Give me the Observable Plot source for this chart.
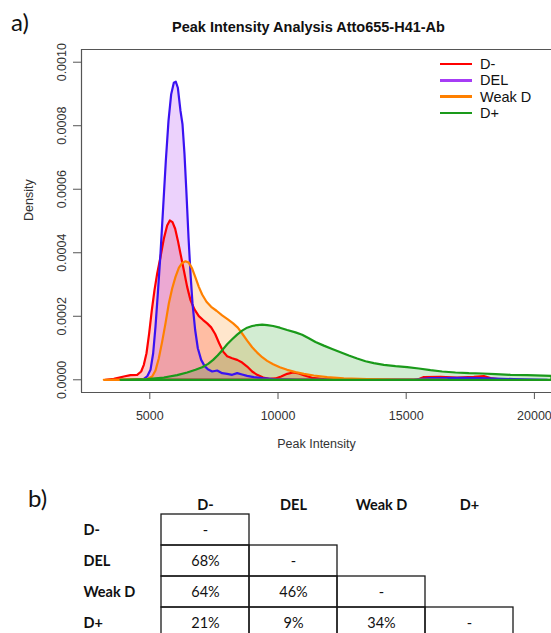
<!DOCTYPE html>
<html><head><meta charset="utf-8">
<script src="https://cdn.jsdelivr.net/npm/d3@7"></script>
<script src="https://cdn.jsdelivr.net/npm/@observablehq/plot@0.6"></script>
<style>
html,body{margin:0;padding:0;overflow:hidden;background:#fff;}
#root{position:relative;width:551px;height:633px;overflow:hidden;}
.abs{position:absolute;}
.panel{font-family:Lato,"Open Sans",sans-serif;font-size:24px;color:#111;line-height:24px;}
#legend{position:absolute;left:440px;top:56px;font-family:"Liberation Sans",Arial,sans-serif;font-size:14.5px;line-height:16.3px;color:#111;}
#legend .row{display:flex;align-items:center;height:16.3px;white-space:nowrap;}
#legend .sw{width:32px;height:2.5px;margin-right:8px;}
</style></head><body>
<div id="root">
  <div id="chart" class="abs" style="left:0;top:0"></div>
  <div id="table" class="abs" style="left:0;top:460px"></div>
  <div class="abs panel" style="left:11px;top:10px">a)</div>
  <div class="abs panel" style="left:28px;top:486px">b)</div>
  <div id="legend"></div>
</div>
<script>
// ---------- data ----------
const titleText = "Peak Intensity Analysis Atto655-H41-Ab";
const xLabel = "Peak Intensity";
const yLabel = "Density";
const seriesNames = ["D-", "DEL", "Weak D", "D+"];
const lineColors = ["#ff0000", "#3a12f2", "#ff8000", "#1a9a1a"];
const legendColors = ["#ff0000", "#a63cf5", "#ff8000", "#1a9a1a"];
const fillColors = ["#ff0000", "#a020f0", "#ff8000", "#20a020"];
const xTicks = [5000, 10000, 15000, 20000];
const yTicks = [0, 0.0002, 0.0004, 0.0006, 0.0008, 0.0010];
const xDomain = [2336, 20667];
const yDomain = [-0.00004, 0.00104];

const dMinusX = [3272,3597,3987,4247,4507,4663,4767,4871,4975,5079,5183,5287,5417,5547,5677,5781,5885,5989,6093,6197,6327,6457,6587,6743,6912,7081,7237,7393,7549,7705,7861,8017,8212,8407,8602,8797,8992,9187,9421,9655,9902,10123,10357,10591,10812,11033,11332,11787,12697,15427,15687,16337,16987,17637,18027,18352,18807];
const dMinusY = [0,0.0000031,0.0000105,0.0000146,0.0000157,0.0000261,0.000047,0.0000836,0.0001463,0.0002195,0.0002822,0.0003344,0.0003867,0.0004441,0.0004859,0.0005016,0.0004964,0.0004755,0.0004389,0.0003971,0.0003449,0.0002926,0.0002508,0.0002215,0.0002006,0.0001881,0.0001777,0.0001651,0.0001442,0.000115,0.0000888,0.0000742,0.0000679,0.0000627,0.0000543,0.0000418,0.0000261,0.0000157,0.0000073,0.0000031,0.0000042,0.0000105,0.0000188,0.000023,0.0000199,0.0000136,0.0000063,0.0000021,0,0,0.0000084,0.0000094,0.0000073,0.0000094,0.0000115,0.0000042,0];

const delX = [4247,4767,4897,5027,5131,5222,5313,5417,5521,5625,5729,5833,5937,6015,6093,6197,6275,6353,6431,6509,6587,6665,6769,6873,7003,7133,7263,7432,7627,7822,8017,8212,8407,8602,8797,9057,9382,9837,10747,15297,15947,17247,17897,19197,20497];
const delY = [0,0.0000031,0.0000105,0.0000314,0.0000836,0.0001672,0.0002717,0.0003971,0.0005434,0.0006897,0.0008151,0.0008987,0.0009353,0.0009384,0.0009196,0.0008465,0.0008047,0.0007106,0.0005852,0.0004494,0.0003344,0.0002404,0.0001568,0.0000993,0.0000627,0.0000439,0.0000334,0.0000261,0.0000293,0.0000209,0.0000188,0.0000157,0.0000209,0.0000167,0.0000125,0.0000084,0.0000052,0.0000021,0.000001,0.000001,0.0000052,0.0000063,0.0000052,0.0000021,0];

const weakDX = [3207,3727,4897,5092,5222,5352,5482,5612,5742,5872,6002,6132,6262,6392,6522,6652,6782,6912,7042,7211,7393,7601,7822,8043,8251,8433,8615,8797,8992,9187,9382,9577,9811,10071,10357,10682,11007,11397,11917,12567,13477,14647,16597];
const weakDY = [0,0.000001,0.0000021,0.0000105,0.0000293,0.0000679,0.0001202,0.0001777,0.0002404,0.0002874,0.000324,0.0003522,0.0003678,0.0003731,0.0003689,0.0003501,0.0003219,0.0002926,0.0002686,0.0002456,0.0002299,0.0002174,0.0002027,0.0001902,0.0001777,0.0001641,0.0001442,0.0001233,0.0001024,0.0000857,0.0000711,0.0000596,0.0000491,0.0000397,0.0000314,0.000024,0.0000188,0.0000136,0.0000084,0.0000042,0.0000021,0.000001,0];

const dPlusX = [3857,4897,5547,6067,6457,6782,7042,7276,7471,7653,7835,8017,8212,8407,8602,8797,8992,9187,9382,9577,9811,10071,10357,10682,10942,11202,11462,11787,12112,12437,12762,13087,13412,13737,14127,14582,15037,15492,15947,16402,16922,17442,17962,18482,19067,19717,20666];
const dPlusY = [0,0.0000021,0.0000073,0.0000146,0.000023,0.0000314,0.0000397,0.0000502,0.0000627,0.0000773,0.0000941,0.0001118,0.0001275,0.0001421,0.0001547,0.0001641,0.0001693,0.0001724,0.0001735,0.0001724,0.0001693,0.0001641,0.0001568,0.0001494,0.0001421,0.0001306,0.0001191,0.0001076,0.0000972,0.0000867,0.0000763,0.0000669,0.0000585,0.0000523,0.000047,0.0000428,0.0000397,0.0000355,0.0000303,0.0000261,0.000023,0.0000209,0.0000199,0.0000178,0.0000157,0.0000146,0.0000125];

const tableCols = ["D-", "DEL", "Weak D", "D+"];
const tableRows = ["D-", "DEL", "Weak D", "D+"];
const overlapDminus = ["-", "68%", "64%", "21%"];
const overlapDEL = ["-", "46%", "9%"];
const overlapWeakD = ["-", "34%"];
const overlapDplus = ["-"];

// ---------- build ----------
const seriesX = [dMinusX, delX, weakDX, dPlusX];
const seriesY = [dMinusY, delY, weakDY, dPlusY];
const seriesPts = seriesNames.map((s, k) => seriesX[k].map((x, i) => ({series: s, x, y: seriesY[k][i]})));
const closedPts = seriesPts.map(pts => {
  const first = pts[0], last = pts[pts.length - 1];
  return pts.concat([{series: first.series, x: last.x, y: 0}, {series: first.series, x: first.x, y: 0}]);
});

const marks = [];
seriesNames.forEach((s, k) => {
  marks.push(Plot.areaY(seriesPts[k], {x: "x", y: "y", fill: fillColors[k], fillOpacity: 0.2, clip: true}));
});
seriesNames.forEach((s, k) => {
  marks.push(Plot.line(closedPts[k], {x: "x", y: "y", stroke: lineColors[k], strokeWidth: 2.2, clip: true}));
});

const chart = Plot.plot({
  width: 551, height: 460,
  marginLeft: 81, marginRight: 0, marginTop: 49, marginBottom: 68,
  x: {domain: xDomain},
  y: {domain: yDomain},
  style: {fontFamily: "'Liberation Sans', Arial, sans-serif", fontSize: "12.5px", color: "#333", background: "transparent", overflow: "visible"},
  marks: [
    ...marks,
    Plot.ruleY([yDomain[0], yDomain[1]], {stroke: "#555", strokeWidth: 1.2}),
    Plot.ruleX([xDomain[0]], {stroke: "#555", strokeWidth: 1.2}),
    Plot.axisX({ticks: xTicks, tickSize: 7, tickPadding: 11.5, tickFormat: d3.format("d"), label: null, stroke: "#555"}),
    Plot.axisY({ticks: yTicks, tickSize: 8, tickPadding: 8, tickRotate: -90, tickFormat: d3.format(".4f"), label: null, stroke: "#555"}),
    Plot.text([xLabel], {text: d => d, frameAnchor: "bottom", dy: 55, fontSize: 12.5, fill: "#333"}),
    Plot.text([yLabel], {text: d => d, frameAnchor: "left", dx: -53, rotate: -90, fontSize: 12.5, fill: "#333"}),
    Plot.text([titleText], {text: d => d, frameAnchor: "top", dy: -28, dx: -8, fontSize: 14.5, fontWeight: "bold", fill: "#111"})
  ]
});
document.getElementById("chart").appendChild(chart);

// legend
const legend = document.getElementById("legend");
seriesNames.forEach((s, k) => {
  const row = document.createElement("div");
  row.className = "row";
  const sw = document.createElement("span");
  sw.className = "sw";
  sw.style.background = legendColors[k];
  const t = document.createElement("span");
  t.textContent = s;
  row.appendChild(sw); row.appendChild(t);
  legend.appendChild(row);
});

// table
const overlapCols = [overlapDminus, overlapDEL, overlapWeakD, overlapDplus];
const cells = [];
overlapCols.forEach((vals, j) => {
  vals.forEach((v, i) => cells.push({col: tableCols[j], row: tableRows[j + i], v}));
});
const table = Plot.plot({
  width: 551, height: 178,
  marginLeft: 160, marginRight: 38, marginTop: 54, marginBottom: 0,
  x: {type: "band", domain: tableCols, padding: 0, axis: null},
  y: {type: "band", domain: tableRows, padding: 0, axis: null},
  style: {fontFamily: "Lato, 'Open Sans', sans-serif", fontSize: "14.5px", color: "#111", background: "transparent", overflow: "visible"},
  marks: [
    Plot.cell(cells, {x: "col", y: "row", fill: "none", stroke: "#1a1a1a", strokeWidth: 1.3}),
    Plot.text(cells, {x: "col", y: "row", text: "v", fontSize: 14.5}),
    Plot.text(tableCols, {x: d => d, text: d => d, frameAnchor: "top", dy: -15, fontWeight: "bold", fontSize: 14.5}),
    Plot.text(tableRows, {y: d => d, text: d => d, frameAnchor: "left", dx: -77, textAnchor: "start", fontWeight: "bold", fontSize: 14.5})
  ]
});
document.getElementById("table").appendChild(table);
</script>
</body></html>
